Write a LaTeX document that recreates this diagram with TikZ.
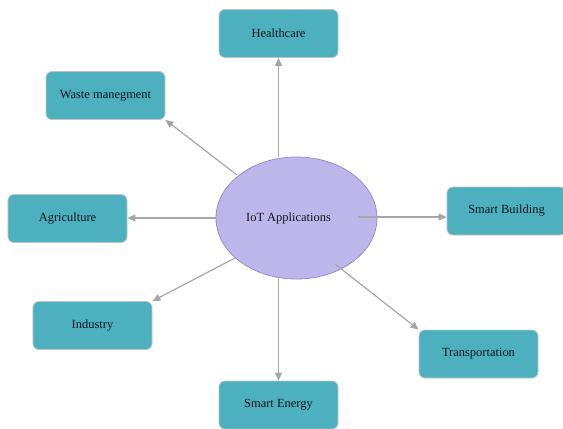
\documentclass[tikz,border=0pt]{standalone}
\usepackage{fontspec}
\setmainfont{Liberation Serif}
\usetikzlibrary{shapes.geometric,arrows.meta}

\definecolor{boxteal}{RGB}{76,176,190}
\definecolor{boxedge}{RGB}{190,196,198}
\definecolor{appfill}{RGB}{189,182,234}
\definecolor{appedge}{RGB}{150,138,212}
\definecolor{arrgray}{RGB}{166,166,166}
\definecolor{txt}{RGB}{20,22,30}

\begin{document}
\begin{tikzpicture}[x=1bp,y=-1bp,
    box/.style={draw=boxedge,fill=boxteal,rounded corners=6bp,line width=0.8bp,
      minimum width=119bp,minimum height=48bp,inner sep=0pt,
      text=txt,font=\fontsize{12.5}{15}\selectfont},
    hub/.style={ellipse,draw=appedge,fill=appfill,line width=0.8bp,
      minimum width=161bp,minimum height=122bp,inner sep=0pt,
      text=txt,font=\fontsize{12.5}{15}\selectfont},
    arr/.style={draw=arrgray,line width=1.2bp,-{Triangle[length=8bp,width=7bp]}}]
    \useasboundingbox (0,0) rectangle (563,428);

    % centre and applications
    \node[hub] (app) at (296.5,218) {IoT Applications\hspace*{16bp}};
    \node[box] (health) at (278.5,33.5) {Healthcare};
    \node[box] (waste) at (105.5,95.5) {Waste manegment};
    \node[box] (agri) at (67.5,218.5) {Agriculture};
    \node[box] (industry) at (92.5,325.5) {Industry};
    \node[box] (energy) at (278.5,405) {Smart Energy};
    \node[box] (building) at (506.5,211) {Smart Building};
    \node[box] (transport) at (478.5,354) {Transportation};

    % where the arrows leave the ellipse
    \coordinate (aw) at (237,175);
    \coordinate (ai) at (235,258);
    \coordinate (ab) at (358,217);
    \coordinate (atr) at (335,264);

    \path
      (health.south |- app.north) edge[arr] (health.south)
      (aw) edge[arr] (waste.south east)
      (app.west) edge[arr] (agri.east |- app.west)
      (ai) edge[arr] (industry.north east)
      (energy.north |- app.south) edge[arr] (energy.north)
      (ab) edge[arr] (ab -| building.west)
      (atr) edge[arr] (transport.north west)
      ;
\end{tikzpicture}
\end{document}
